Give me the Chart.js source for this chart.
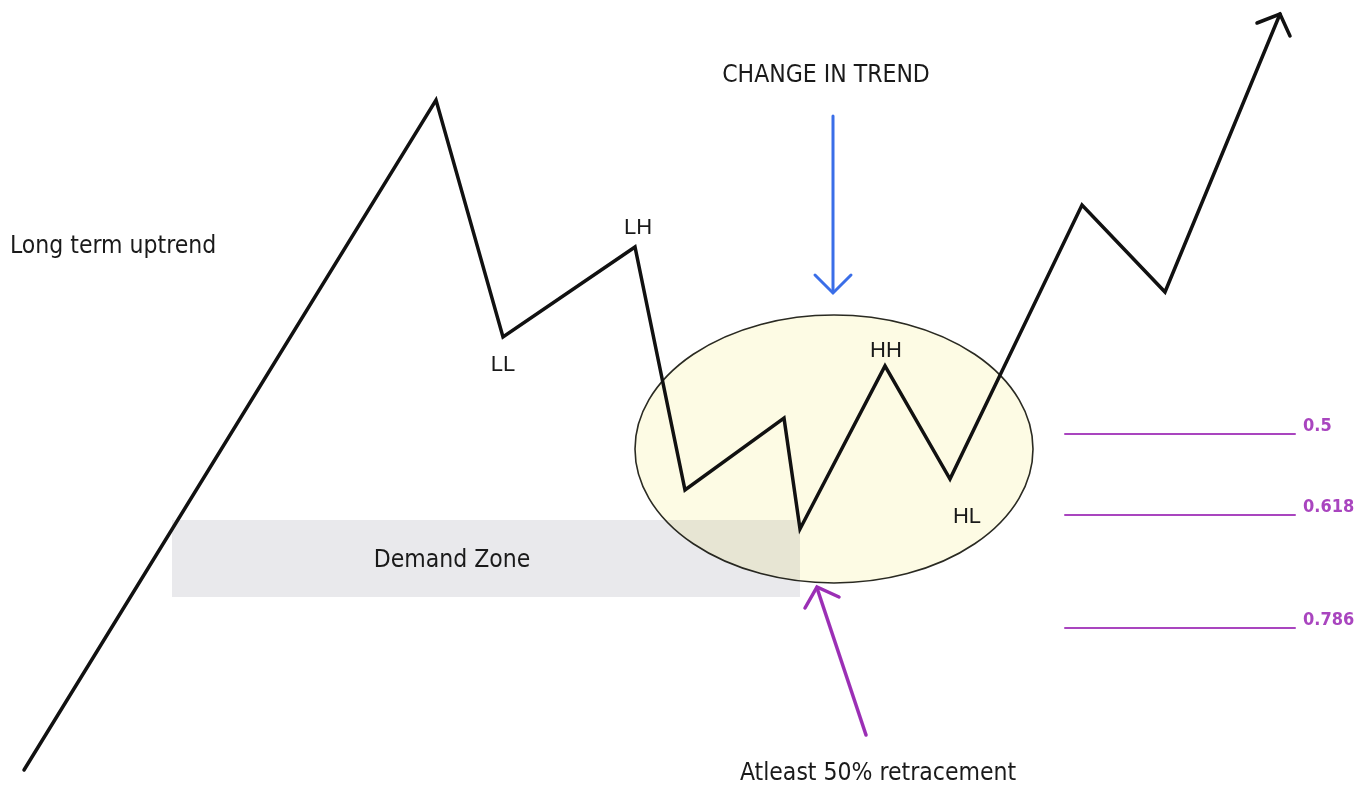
<!DOCTYPE html>
<html>
<head>
<meta charset="utf-8">
<script src="https://cdn.jsdelivr.net/npm/chart.js@4.4.1/dist/chart.umd.min.js"></script>
<style>
  html, body { margin: 0; padding: 0; background: #ffffff; }
  #wrap { width: 1360px; height: 785px; }
</style>
</head>
<body>
<div id="wrap"><canvas id="chart" width="1360" height="785"></canvas></div>
<script>
// price swing path (x = time, y = price in picture units, y grows downward)
const pathX = [24, 436, 503, 635, 685, 784, 800, 885, 950, 1082, 1165, 1280];
const pathY = [770, 100, 337, 247, 490, 418, 529, 366, 479, 205, 292, 14];

// arrow head on the end of the path
const headX = [1257, 1280, 1290];
const headY = [23, 14, 36];

// fibonacci retracement levels
const fibLabels = ["0.5", "0.618", "0.786"];
const fibY = [434, 515, 628];
const fibStartX = 1065;
const fibEndX = 1295;

// "change in trend" arrow (blue)
const blueShaftX = [833, 833];
const blueShaftY = [116, 292];
const blueHeadX = [815, 833, 851];
const blueHeadY = [275, 293, 275];

// "retracement" arrow (purple)
const purpleShaftX = [866, 817];
const purpleShaftY = [735, 588];
const purpleHeadX = [805, 817, 839];
const purpleHeadY = [608, 587, 597];

// demand zone box and the ellipse around the reversal
const zoneX = [172, 800];
const zoneY = [520, 597];
const ellipseCenter = [834, 449];
const ellipseRadius = [199, 134];

// swing labels
const swingLabels = ["LL", "LH", "HH", "HL"];
const swingLabelX = [503, 638, 886, 967];
const swingLabelY = [365, 228, 351, 517];

const toPts = (xs, ys) => xs.map((x, i) => ({ x: x, y: ys[i] }));

const lineSet = (xs, ys, color, width) => ({
  data: toPts(xs, ys),
  showLine: true,
  borderColor: color,
  borderWidth: width,
  pointRadius: 0,
  fill: false,
  tension: 0,
  borderCapStyle: "round",
  borderJoinStyle: "miter",
});

const datasets = [
  lineSet(pathX, pathY, "#111111", 3.5),
  lineSet(headX, headY, "#111111", 3.5),
  lineSet(blueShaftX, blueShaftY, "#3a6ee8", 3),
  lineSet(blueHeadX, blueHeadY, "#3a6ee8", 3),
  lineSet(purpleShaftX, purpleShaftY, "#9b2fb5", 3.5),
  lineSet(purpleHeadX, purpleHeadY, "#9b2fb5", 3.5),
];
fibY.forEach((y) => {
  datasets.push(lineSet([fibStartX, fibEndX], [y, y], "#a945bf", 2));
});

// background shapes: ellipse, then demand zone multiplied on top
const shapesPlugin = {
  id: "shapes",
  beforeDatasetsDraw(chart) {
    const ctx = chart.ctx;
    const xs = chart.scales.x;
    const ys = chart.scales.y;
    const cx = xs.getPixelForValue(ellipseCenter[0]);
    const cy = ys.getPixelForValue(ellipseCenter[1]);
    const rx = Math.abs(xs.getPixelForValue(ellipseCenter[0] + ellipseRadius[0]) - cx);
    const ry = Math.abs(ys.getPixelForValue(ellipseCenter[1] + ellipseRadius[1]) - cy);
    ctx.save();
    ctx.beginPath();
    ctx.ellipse(cx, cy, rx, ry, 0, 0, Math.PI * 2);
    ctx.fillStyle = "#fdfbe4";
    ctx.fill();
    ctx.lineWidth = 1.6;
    ctx.strokeStyle = "#2a2a22";
    ctx.stroke();

    const x0 = xs.getPixelForValue(zoneX[0]);
    const x1 = xs.getPixelForValue(zoneX[1]);
    const y0 = ys.getPixelForValue(zoneY[0]);
    const y1 = ys.getPixelForValue(zoneY[1]);
    ctx.globalCompositeOperation = "multiply";
    ctx.fillStyle = "#e9e9ec";
    ctx.fillRect(x0, y0, x1 - x0, y1 - y0);
    ctx.restore();
  },
  afterDatasetsDraw(chart) {
    const ctx = chart.ctx;
    const xs = chart.scales.x;
    const ys = chart.scales.y;
    const px = (v) => xs.getPixelForValue(v);
    const py = (v) => ys.getPixelForValue(v);
    ctx.save();
    ctx.textBaseline = "middle";

    ctx.fillStyle = "#1a1a1a";
    ctx.font = '24.5px "DejaVu Sans Condensed", "DejaVu Sans", sans-serif';
    ctx.textAlign = "center";
    ctx.fillText("CHANGE IN TREND", px(826), py(76));
    ctx.fillText("Demand Zone", px(452), py(561));
    ctx.fillText("Atleast 50% retracement", px(878), py(774));
    ctx.textAlign = "left";
    ctx.fillText("Long term uptrend", px(10), py(247));

    ctx.font = '22px "Liberation Sans", Arial, sans-serif';
    ctx.textAlign = "center";
    swingLabels.forEach((t, i) => {
      ctx.fillText(t, px(swingLabelX[i]), py(swingLabelY[i]));
    });

    ctx.font = '600 18px "DejaVu Sans Condensed", "DejaVu Sans", sans-serif';
    ctx.fillStyle = "#a945bf";
    ctx.textAlign = "left";
    ctx.textBaseline = "alphabetic";
    fibLabels.forEach((t, i) => {
      ctx.fillText(t, px(fibEndX + 8), py(fibY[i] - 3));
    });
    ctx.restore();
  },
};

new Chart(document.getElementById("chart"), {
  type: "scatter",
  data: { datasets: datasets },
  options: {
    responsive: false,
    animation: false,
    layout: { padding: 0 },
    plugins: {
      legend: { display: false },
      tooltip: { enabled: false },
    },
    scales: {
      x: { type: "linear", min: 0, max: 1360, display: false },
      y: { type: "linear", min: 0, max: 785, reverse: true, display: false },
    },
  },
  plugins: [shapesPlugin],
});
</script>
</body>
</html>
